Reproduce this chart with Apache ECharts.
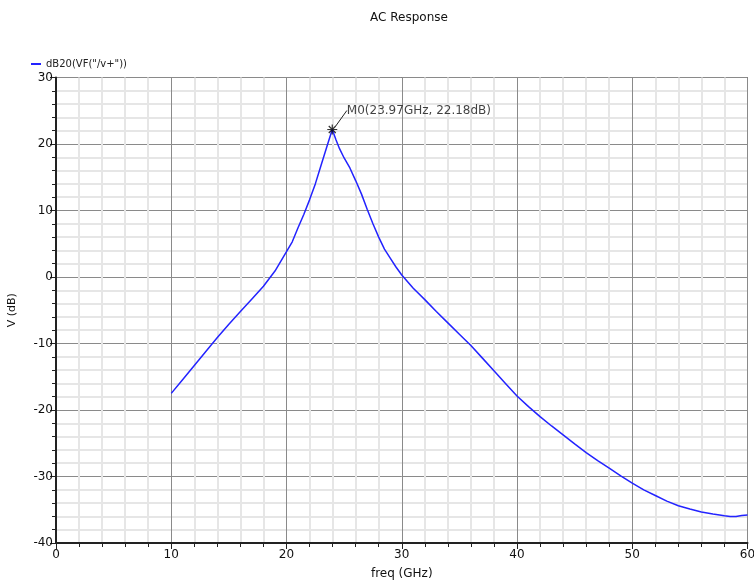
<!DOCTYPE html>
<html><head><meta charset="utf-8">
<script src="https://cdn.jsdelivr.net/npm/echarts@6/dist/echarts.min.js"></script>
<style>html,body{margin:0;padding:0;background:#fff}#c{width:754px;height:581px}</style>
</head><body><div id="c"></div>
<script>
var freqGHz = [10,11,12,13,14,15,16,17,18,19,20,20.5,21,21.5,22,22.5,23,23.5,23.97,24.3,24.6,25,25.5,26,26.5,27,27.5,28,28.5,29,29.5,30,31,32,33,34,35,36,37,38,39,40,41,42,43,44,45,46,47,48,49,50,51,52,53,54,55,56,57,58,58.5,59,59.5,60];
var vdB = [-17.5,-15.4,-13.3,-11.2,-9.1,-7.1,-5.2,-3.3,-1.4,0.9,3.8,5.3,7.4,9.4,11.6,14.0,16.8,19.6,22.18,20.6,19.3,17.9,16.4,14.5,12.5,10.2,8.0,6.0,4.2,2.85,1.5,0.3,-1.7,-3.4,-5.2,-6.9,-8.6,-10.3,-12.2,-14.1,-16.0,-17.9,-19.5,-21.0,-22.4,-23.75,-25.1,-26.4,-27.6,-28.75,-29.9,-31.0,-32.0,-32.85,-33.7,-34.4,-34.9,-35.35,-35.65,-35.9,-36.0,-36.0,-35.85,-35.8];
var markerX = [23.97];
var markerY = [22.18];
var markerName = 'M0';
var seriesName = 'dB20(VF("/v+"))';

var lineData = freqGHz.map(function(f,i){return [f, vdB[i]];});
var markData = markerX.map(function(f,i){return [f, markerY[i]];});
var font = 'DejaVu Sans';
var chart = echarts.init(document.getElementById('c'));
chart.setOption({
  animation: false,
  backgroundColor: '#fff',
  title: {text: 'AC Response', left: 404, top: 7, textAlign: 'center',
    textStyle: {fontFamily: font, fontSize: 12, fontWeight: 'normal', color: '#111'}},
  legend: {left: 26, top: 54, itemWidth: 10, itemHeight: 2, itemGap: 8,
    data: [{name: seriesName, icon: 'rect'}],
    textStyle: {fontFamily: font, fontSize: 10, color: '#222'}},
  grid: {left: 56, right: 6.5, top: 77.5, bottom: 38, outerBoundsMode: 'none', containLabel: false,
    show: true, borderColor: '#333', borderWidth: 1},
  xAxis: {type: 'value', min: 0, max: 60, interval: 10,
    name: 'freq (GHz)', nameLocation: 'middle', nameGap: 25,
    nameTextStyle: {fontFamily: font, fontSize: 12, color: '#111'},
    axisLine: {show: true, onZero: false, lineStyle: {color: '#222', width: 2}},
    axisTick: {show: true, length: 6, lineStyle: {color: '#222'}},
    minorTick: {show: true, splitNumber: 5, length: 4, lineStyle: {color: '#222'}},
    axisLabel: {fontFamily: font, fontSize: 12, color: '#111', margin: 6},
    splitLine: {show: true, lineStyle: {color: '#8a8a8a', width: 1}},
    minorSplitLine: {show: true, lineStyle: {color: '#e6e6e6', width: 2}}},
  yAxis: {type: 'value', min: -40, max: 30, interval: 10,
    name: 'V (dB)', nameLocation: 'middle', nameGap: 38, nameRotate: 90,
    nameTextStyle: {fontFamily: font, fontSize: 11, color: '#111'},
    axisLine: {show: true, onZero: false, lineStyle: {color: '#222', width: 2}},
    axisTick: {show: true, length: 6, lineStyle: {color: '#222'}},
    minorTick: {show: true, splitNumber: 5, length: 4, lineStyle: {color: '#222'}},
    axisLabel: {fontFamily: font, fontSize: 12, color: '#111', margin: 3},
    splitLine: {show: true, lineStyle: {color: '#8a8a8a', width: 1}},
    minorSplitLine: {show: true, lineStyle: {color: '#e6e6e6', width: 2}}},
  series: [
    {name: seriesName, type: 'line', data: lineData, showSymbol: false, symbol: 'none',
      color: '#2323ff', lineStyle: {color: '#2323ff', width: 1.5}, z: 3},
    {name: 'marker', type: 'scatter', data: markData, symbolSize: 10,
      symbol: 'path://M0,-5L0,5M-5,0L5,0M-3.5,-3.5L3.5,3.5M-3.5,3.5L3.5,-3.5',
      itemStyle: {color: 'rgba(0,0,0,0)', borderColor: '#000', borderWidth: 1.2}, z: 5,
      label: {show: true, position: 'right', distance: 4,
        formatter: function(p){return markerName + '(' + p.value[0].toFixed(2) + 'GHz, ' + p.value[1].toFixed(2) + 'dB)';},
        fontFamily: font, fontSize: 12, color: '#111'},
      labelLayout: {dx: 5, dy: -19},
      labelLine: {show: true, lineStyle: {color: '#222', width: 1}}}
  ]
});
</script></body></html>
